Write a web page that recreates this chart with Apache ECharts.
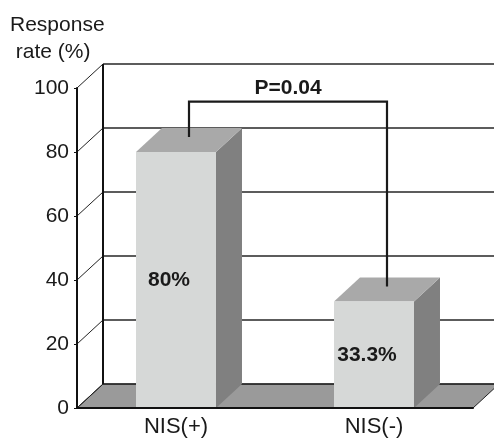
<!DOCTYPE html>
<html><head><meta charset="utf-8">
<script src="https://cdn.jsdelivr.net/npm/echarts@6/dist/echarts.min.js"></script>
<style>html,body{margin:0;padding:0;background:#fff}#c{width:494px;height:440px}</style>
</head><body><div id="c"></div>
<script>
var categories = ['NIS(+)', 'NIS(-)'];
var responseRates = [80, 33.3];
var barLabels = ['80%', '33.3%'];
var yTicks = [0, 20, 40, 60, 80, 100];
var pValueText = 'P=0.04';
var bracketLevel = 92;

var DX = 26, DY = -24;
var FONT = 'Liberation Sans, Arial, sans-serif';

var chart = echarts.init(document.getElementById('c'), null, {renderer: 'canvas'});

function wallsRender(params, api) {
  var cs = params.coordSys;
  var y0 = api.coord([0, 0])[1];
  var children = [];
  children.push({type: 'polygon', shape: {points: [
    [cs.x, y0], [cs.x + cs.width, y0], [cs.x + cs.width + DX, y0 + DY], [cs.x + DX, y0 + DY]
  ]}, style: {fill: '#9a9a9a', stroke: '#222', lineWidth: 1}});
  yTicks.forEach(function (v) {
    var y = api.coord([0, v])[1];
    children.push({type: 'line', shape: {x1: cs.x + DX, y1: y + DY, x2: cs.x + cs.width + DX, y2: y + DY},
      style: {stroke: '#262626', lineWidth: 1.6}});
    children.push({type: 'line', shape: {x1: cs.x, y1: y, x2: cs.x + DX, y2: y + DY},
      style: {stroke: '#222', lineWidth: 1}});
  });
  var yTop = api.coord([0, yTicks[yTicks.length - 1]])[1];
  children.push({type: 'line', shape: {x1: cs.x + DX, y1: yTop + DY, x2: cs.x + DX, y2: y0 + DY},
    style: {stroke: '#111', lineWidth: 2}});
  return {type: 'group', children: children};
}

function barRender(params, api) {
  var idx = api.value(0), val = api.value(1);
  var top = api.coord([idx, val]);
  var base = api.coord([idx, 0]);
  var bw = api.size([1, 0])[0] * 0.404;
  var x0 = top[0] - bw / 2, x1 = top[0] + bw / 2;
  var yT = top[1], yB = base[1];
  return {type: 'group', children: [
    {type: 'polygon', shape: {points: [[x1, yT], [x1 + DX, yT + DY], [x1 + DX, yB + DY], [x1, yB]]},
      style: {fill: '#808080'}},
    {type: 'polygon', shape: {points: [[x0, yT], [x0 + DX, yT + DY], [x1 + DX, yT + DY], [x1, yT]]},
      style: {fill: '#a9a9a9'}},
    {type: 'rect', shape: {x: x0, y: yT, width: bw, height: yB - yT},
      style: {fill: '#d6d8d7'}},
    {type: 'text', x: top[0] - 7, y: api.coord([idx, val / 2])[1],
      style: {text: barLabels[idx], fill: '#1a1a1a', font: 'bold 21px ' + FONT,
        textAlign: 'center', textVerticalAlign: 'middle'}}
  ]};
}

function bracketRender(params, api) {
  var a = api.coord([0, responseRates[0]]);
  var b = api.coord([1, responseRates[1]]);
  var yL = api.coord([0, bracketLevel])[1] + DY / 2;
  var ax = a[0] + DX / 2, ay = a[1] + DY / 2 - 3;
  var bx = b[0] + DX / 2, by = b[1] + DY / 2 - 3;
  return {type: 'group', children: [
    {type: 'polyline', shape: {points: [[ax, ay], [ax, yL], [bx, yL], [bx, by]]},
      style: {stroke: '#1a1a1a', lineWidth: 2.2, fill: null}},
    {type: 'text', x: (ax + bx) / 2, y: yL - 13,
      style: {text: pValueText, fill: '#1a1a1a', font: 'bold 21px ' + FONT,
        textAlign: 'center', textVerticalAlign: 'middle'}}
  ]};
}

chart.setOption({
  animation: false,
  backgroundColor: '#fff',
  textStyle: {fontFamily: FONT},
  graphic: [{type: 'text', left: 10, top: 12,
    style: {text: 'Response\n rate (%)', fill: '#1a1a1a', font: '21px ' + FONT, lineHeight: 27}}],
  grid: {left: 77, top: 88, width: 396, height: 320},
  xAxis: {type: 'category', data: categories, z: 10,
    axisLine: {lineStyle: {color: '#111', width: 2}},
    axisTick: {inside: true, length: 5, lineStyle: {color: '#111', width: 1.5}},
    axisLabel: {color: '#1a1a1a', fontSize: 22, margin: 8}},
  yAxis: {type: 'value', min: 0, max: 100, interval: 20, z: 10,
    axisLine: {show: true, lineStyle: {color: '#111', width: 2}},
    axisTick: {show: true, length: 3, lineStyle: {color: '#111'}},
    axisLabel: {color: '#1a1a1a', fontSize: 21, margin: 8, padding: [6, 0, 0, 0]},
    splitLine: {show: false}},
  series: [
    {type: 'custom', z: 1, renderItem: wallsRender, data: [[0, 0]], silent: true},
    {type: 'custom', z: 2, renderItem: barRender,
      data: responseRates.map(function (v, i) { return [i, v]; })},
    {type: 'custom', z: 3, renderItem: bracketRender, data: [[0, 0]], silent: true}
  ]
});
</script></body></html>
